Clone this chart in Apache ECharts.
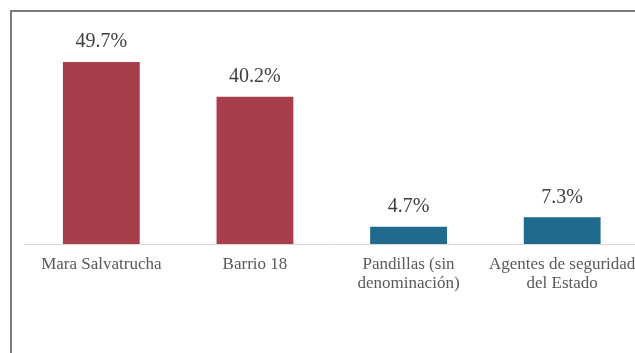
<!DOCTYPE html>
<html>
<head>
<meta charset="utf-8">
<script src="https://cdn.jsdelivr.net/npm/echarts@6/dist/echarts.min.js"></script>
<style>
  html, body { margin: 0; padding: 0; background: #ffffff; overflow: hidden; width: 635px; height: 353px; }
  #frame { position: absolute; left: 10px; top: 10px; width: 700px; height: 400px;
           border-left: 2px solid #7b7b7b; border-top: 2px solid #7b7b7b; box-sizing: border-box; }
  #chart { position: absolute; left: 0; top: 0; width: 645px; height: 353px; }
</style>
</head>
<body>
<div id="frame"></div>
<div id="chart"></div>
<script>
const categories = ['Mara Salvatrucha', 'Barrio 18', 'Pandillas (sin\ndenominación)', 'Agentes de seguridad\ndel Estado'];
const values = [49.7, 40.2, 4.7, 7.3];
const barColors = ['#a83e4b', '#a83e4b', '#1f6a8d', '#1f6a8d'];

const chart = echarts.init(document.getElementById('chart'), null, { renderer: 'canvas' });
chart.setOption({
  animation: false,
  backgroundColor: 'transparent',
  grid: { left: 24.5, right: 6, top: 24.3, bottom: 109, containLabel: false },
  xAxis: {
    type: 'category',
    data: categories,
    axisLine: { show: true, lineStyle: { color: '#d9d9d9', width: 1 } },
    axisTick: { show: false },
    axisLabel: {
      interval: 0,
      margin: 11,
      color: '#595959',
      fontFamily: 'Liberation Serif',
      fontSize: 17,
      lineHeight: 19
    }
  },
  yAxis: {
    type: 'value',
    min: 0,
    max: 60,
    show: false,
    splitLine: { show: false }
  },
  series: [{
    type: 'bar',
    barWidth: '50%',
    data: values.map((v, i) => ({ value: v, itemStyle: { color: barColors[i] } })),
    label: {
      show: true,
      position: 'top',
      distance: 10,
      color: '#404040',
      fontFamily: 'Liberation Serif',
      fontSize: 20,
      formatter: p => p.value.toFixed(1) + '%'
    }
  }]
});
</script>
</body>
</html>
